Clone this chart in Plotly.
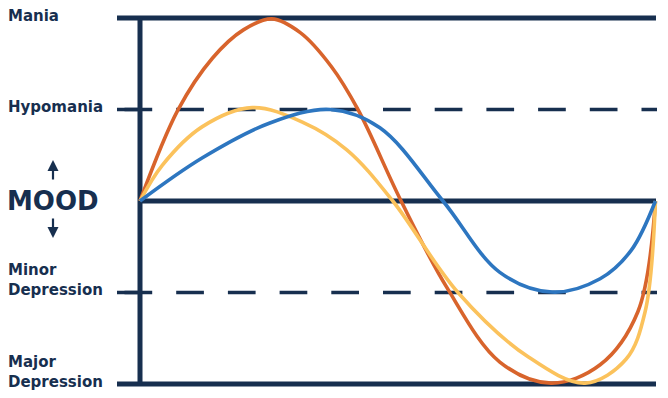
import plotly.graph_objects as go

# ---- data (time units 0..10, mood units -2..2) ----
level_values = [2, 1, 0, -1, -2]
level_dashed = [False, True, False, True, False]

# label lines: (text, mood value of text centre)
label_texts = ["Mania", "Hypomania", "Minor", "Depression", "Major", "Depression"]
label_values = [2.02, 1.03, -0.75, -0.97, -1.76, -1.98]

orange_t = [0, 0.735, 1.4, 2.0, 2.55, 3.1, 3.7, 4.22, 5.05, 5.94, 6.96, 7.95, 8.9, 9.63, 9.97]
orange_v = [0, 0.995, 1.56, 1.87, 1.99, 1.84, 1.47, 0.995, 0, -0.95, -1.76, -1.99, -1.79, -1.21, 0]

yellow_t = [0, 0.43, 1.2, 2.17, 3.15, 4.0, 4.89, 6.15, 7.5, 8.61, 9.4, 9.77, 9.97]
yellow_v = [0, 0.39, 0.81, 1.02, 0.86, 0.56, 0, -1.0, -1.70, -1.99, -1.73, -1.21, 0]

blue_t = [0, 1.2, 2.5, 3.68, 4.64, 5.86, 6.96, 7.97, 8.9, 9.5, 9.97]
blue_v = [0, 0.47, 0.85, 1.0, 0.80, 0, -0.78, -0.995, -0.85, -0.54, 0]

NAVY = "#172f4f"
ORANGE = "#d8642c"
YELLOW = "#fbc25c"
BLUE = "#2d76c0"

W, H = 668, 398
PX0, PXU = 140, 51.7      # pixel of t=0, pixels per time unit
PY0, PYU = 201, 91.5      # pixel of v=0, pixels per mood unit

def tx(px):
    return (px - PX0) / PXU

def vy(py):
    return (PY0 - py) / PYU

fig = go.Figure()

# level lines
for v, dashed in zip(level_values, level_dashed):
    if dashed:
        fig.add_trace(go.Scatter(x=[tx(117), tx(140)], y=[v, v], mode="lines",
                                 line=dict(color=NAVY, width=3.5), hoverinfo="skip"))
        fig.add_trace(go.Scatter(x=[tx(124.5), tx(657)], y=[v, v], mode="lines",
                                 line=dict(color=NAVY, width=3.5, dash="27.7px,24px"), hoverinfo="skip"))
    else:
        start = 140 if v == 0 else 117
        fig.add_trace(go.Scatter(x=[tx(start), tx(656)], y=[v, v], mode="lines",
                                 line=dict(color=NAVY, width=5), hoverinfo="skip"))

# vertical axis
fig.add_trace(go.Scatter(x=[0, 0], y=[level_values[0], level_values[-1]], mode="lines",
                         line=dict(color=NAVY, width=5), hoverinfo="skip"))

for t, v, c in [(orange_t, orange_v, ORANGE), (yellow_t, yellow_v, YELLOW), (blue_t, blue_v, BLUE)]:
    fig.add_trace(go.Scatter(x=t, y=v, mode="lines",
                             line=dict(color=c, width=3.6, shape="spline", smoothing=1.0),
                             hoverinfo="skip"))

# labels
label_font = dict(family="DejaVu Sans", size=15, color=NAVY)
for lab, v in zip(label_texts, label_values):
    fig.add_annotation(x=6 / W, xref="paper", y=v, yref="y", text="<b>" + lab + "</b>",
                       showarrow=False, xanchor="left", yanchor="middle", align="left",
                       font=label_font)

fig.add_annotation(x=53 / W, xref="paper", y=0, yref="y", text="<b>MOOD</b>", showarrow=False,
                   xanchor="center", yanchor="middle", font=dict(family="DejaVu Sans", size=26, color=NAVY))
# arrows
fig.add_annotation(x=tx(53), y=vy(160), ax=0, ay=21, showarrow=True, arrowhead=2,
                   arrowsize=1, arrowwidth=2.2, arrowcolor=NAVY, text="")
fig.add_annotation(x=tx(53), y=vy(238), ax=0, ay=-21, showarrow=True, arrowhead=2,
                   arrowsize=1, arrowwidth=2.2, arrowcolor=NAVY, text="")

fig.update_layout(width=W, height=H, margin=dict(l=0, r=0, t=0, b=0),
                  paper_bgcolor="white", plot_bgcolor="white", showlegend=False,
                  xaxis=dict(range=[tx(0), tx(W)], visible=False, fixedrange=True),
                  yaxis=dict(range=[vy(H), vy(0)], visible=False, fixedrange=True))

fig.write_html("out.html")
